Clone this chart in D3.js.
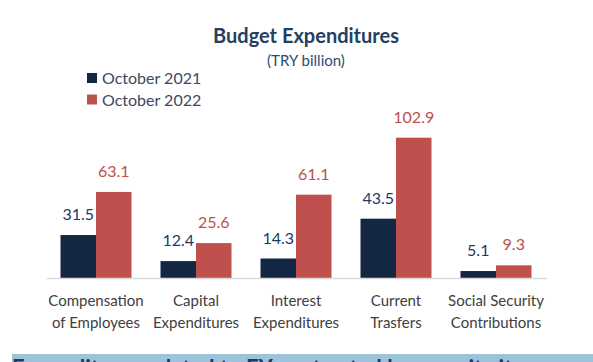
<!DOCTYPE html>
<html lang="en">
<head>
	<meta charset="UTF-8">
	<title>Budget Expenditures</title>
	<style>
		body { margin: 0; background: #fff; }
		text { font-family: Lato, "Noto Sans", sans-serif; }
	</style>
</head>
<body>
	<script type="text/javascript" src="https://cdn.jsdelivr.net/npm/d3@7/dist/d3.min.js"></script>
	<script type="text/javascript">
		// data
		var categories = [
			["Compensation", "of Employees"],
			["Capital", "Expenditures"],
			["Interest", "Expenditures"],
			["Current", "Trasfers"],
			["Social Security", "Contributions"]
		];
		var seriesNames = ["October 2021", "October 2022"];
		var oct2021 = [31.5, 12.4, 14.3, 43.5, 5.1];
		var oct2022 = [63.1, 25.6, 61.1, 102.9, 9.3];
		var colors = ["#132742", "#C0504D"];
		var labelColors = ["#1F3864", "#C0504D"];

		var width = 593;
		var height = 362;
		var svg = d3.select("body")
			.append("svg")
			.attr("width", width)
			.attr("height", height);

		var catKeys = categories.map(function(c){ return c.join(" "); });

		// scales
		var x0 = d3.scaleBand()
			.domain(catKeys)
			.range([46, 546])
			.paddingInner(0.29)
			.paddingOuter(0.145);
		var x1 = d3.scaleBand()
			.domain(seriesNames)
			.range([0, x0.bandwidth()]);
		var y = d3.scaleLinear()
			.domain([0, 110])
			.range([278, 128]);

		var rows = catKeys.map(function(k, i){
			return { key: k, values: [oct2021[i], oct2022[i]] };
		});

		// title
		svg.append("text")
			.attr("x", 306).attr("y", 43)
			.attr("text-anchor", "middle")
			.attr("font-size", 20)
			.attr("font-weight", 700)
			.attr("fill", "#243F60")
			.text("Budget Expenditures");
		svg.append("text")
			.attr("x", 306).attr("y", 66)
			.attr("text-anchor", "middle")
			.attr("font-size", 15)
			.attr("fill", "#2E4A6B")
			.text("(TRY billion)");

		// legend
		var legend = svg.selectAll(".legend")
			.data(seriesNames)
			.enter()
			.append("g")
			.attr("transform", function(d, i){ return "translate(87," + (73 + i * 21.5) + ")"; });
		legend.append("rect")
			.attr("width", 10).attr("height", 10)
			.attr("fill", function(d, i){ return colors[i]; });
		legend.append("text")
			.attr("x", 15).attr("y", 11)
			.attr("font-size", 16)
			.attr("fill", "#3A4A63")
			.text(function(d){ return d; });

		// bars
		var groups = svg.selectAll(".grp")
			.data(rows)
			.enter()
			.append("g")
			.attr("transform", function(d){ return "translate(" + x0(d.key) + ",0)"; });

		groups.selectAll("rect")
			.data(function(d){ return d.values; })
			.enter()
			.append("rect")
			.attr("x", function(d, i){ return x1(seriesNames[i]); })
			.attr("y", function(d){ return y(d); })
			.attr("width", x1.bandwidth())
			.attr("height", function(d){ return y(0) - y(d); })
			.attr("fill", function(d, i){ return colors[i]; });

		groups.selectAll(".val")
			.data(function(d){ return d.values; })
			.enter()
			.append("text")
			.attr("x", function(d, i){ return x1(seriesNames[i]) + x1.bandwidth() / 2; })
			.attr("y", function(d){ return y(d) - 15; })
			.attr("text-anchor", "middle")
			.attr("font-size", 16)
			.attr("fill", function(d, i){ return labelColors[i]; })
			.text(function(d){ return d.toFixed(1); });

		// x axis
		var axis = svg.append("g")
			.attr("transform", "translate(0," + y(0) + ")")
			.call(d3.axisBottom(x0).tickSize(0).tickSizeOuter(0));
		axis.select(".domain").attr("stroke", "#D9D9D9").attr("stroke-width", 1.5);
		axis.selectAll(".tick text").each(function(d, i){
			var t = d3.select(this).text(null)
				.attr("font-family", "Lato, 'Noto Sans', sans-serif")
				.attr("font-size", 15)
				.attr("fill", "#404040")
				.attr("y", 0).attr("dy", null);
			categories[i].forEach(function(line, j){
				t.append("tspan").attr("x", 0).attr("y", 28 + j * 22).text(line);
			});
		});

		// cut-off heading band below the chart (only the top of its text shows)
		svg.append("rect")
			.attr("x", 12).attr("y", 354)
			.attr("width", width - 12).attr("height", 20)
			.attr("fill", "#9DC3DB");
		svg.append("text")
			.attr("x", 12).attr("y", 376)
			.attr("font-size", 22)
			.attr("font-weight", 700)
			.attr("fill", "#1F3864")
			.text("Expenditures related to FY contrasted by security items");
	</script>
</body>
</html>
